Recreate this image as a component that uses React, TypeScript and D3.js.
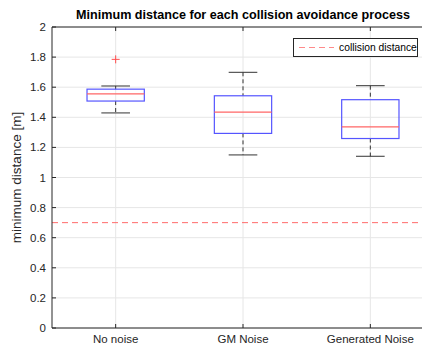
import React from 'react';
import * as d3 from 'd3';

// Box statistics
const categories = ['No noise', 'GM Noise', 'Generated Noise'];
const whiskerLow = [1.429, 1.15, 1.141];
const q1 = [1.508, 1.293, 1.259];
const medians = [1.555, 1.435, 1.336];
const q3 = [1.587, 1.543, 1.517];
const whiskerHigh = [1.608, 1.699, 1.61];
const outliers = [[1.785], [], []];
const collisionDistance = 0.7;
const yTicks = [0, 0.2, 0.4, 0.6, 0.8, 1, 1.2, 1.4, 1.6, 1.8, 2];

const W = 422;
const H = 346;
const margin = { top: 27, right: -12, bottom: 18, left: 52 };
const font = 'Liberation Sans, Arial, sans-serif';
const axisColor = '#262626';

export default function App() {
  const innerW = W - margin.left - margin.right;
  const innerH = H - margin.top - margin.bottom;

  const x = d3.scaleLinear().domain([0.5, 3.5]).range([0, innerW]);
  const y = d3.scaleLinear().domain([0, 2]).range([innerH, 0]);
  const boxHalf = x(1.225) - x(1);
  const capHalf = boxHalf / 2;

  return (
    <svg
      width={W}
      height={H}
      style={{ position: 'absolute', left: 0, top: 0, background: 'white' }}
      fontFamily={font}
    >
      <text
        x={margin.left + innerW / 2}
        y={19}
        textAnchor="middle"
        fontSize={12.6}
        fontWeight="bold"
        fill="#000"
      >
        Minimum distance for each collision avoidance process
      </text>
      <text
        transform={`translate(21,${margin.top + innerH / 2}) rotate(-90)`}
        textAnchor="middle"
        fontSize={13.5}
        fill={axisColor}
      >
        minimum distance [m]
      </text>
      <g transform={`translate(${margin.left},${margin.top})`}>
        {/* grid */}
        {yTicks.map((t) => (
          <line key={'gy' + t} x1={0} x2={innerW} y1={y(t)} y2={y(t)} stroke="#e6e6e6" />
        ))}
        {categories.map((c, i) => (
          <line key={'gx' + c} x1={x(i + 1)} x2={x(i + 1)} y1={0} y2={innerH} stroke="#e6e6e6" />
        ))}

        {/* collision distance */}
        <line
          x1={0}
          x2={innerW}
          y1={y(collisionDistance)}
          y2={y(collisionDistance)}
          stroke="#ff6b6b"
          strokeDasharray="6,4"
        />

        {/* boxes */}
        {categories.map((c, i) => {
          const cx = x(i + 1);
          return (
            <g key={c}>
              <line x1={cx} x2={cx} y1={y(whiskerHigh[i])} y2={y(q3[i])} stroke="#333" strokeDasharray="4,3" />
              <line x1={cx} x2={cx} y1={y(q1[i])} y2={y(whiskerLow[i])} stroke="#333" strokeDasharray="4,3" />
              <line x1={cx - capHalf} x2={cx + capHalf} y1={y(whiskerHigh[i])} y2={y(whiskerHigh[i])} stroke="#333" />
              <line x1={cx - capHalf} x2={cx + capHalf} y1={y(whiskerLow[i])} y2={y(whiskerLow[i])} stroke="#333" />
              <rect
                x={cx - boxHalf}
                y={y(q3[i])}
                width={boxHalf * 2}
                height={y(q1[i]) - y(q3[i])}
                fill="none"
                stroke="#5555ff"
                strokeWidth={1.2}
              />
              <line x1={cx - boxHalf} x2={cx + boxHalf} y1={y(medians[i])} y2={y(medians[i])} stroke="#ff6666" strokeWidth={1.2} />
              {outliers[i].map((o) => (
                <path
                  key={o}
                  d={`M${cx - 4},${y(o)}H${cx + 4}M${cx},${y(o) - 4}V${y(o) + 4}`}
                  stroke="#ff4d4d"
                  strokeWidth={1}
                />
              ))}
            </g>
          );
        })}

        {/* axes frame */}
        <line x1={0} x2={innerW} y1={0} y2={0} stroke={axisColor} />
        <line x1={0} x2={innerW} y1={innerH} y2={innerH} stroke={axisColor} />
        <line x1={0} x2={0} y1={0} y2={innerH} stroke={axisColor} />
        {yTicks.map((t) => (
          <g key={'ty' + t}>
            <line x1={0} x2={4} y1={y(t)} y2={y(t)} stroke={axisColor} />
            <text x={-6} y={y(t)} dy="0.35em" textAnchor="end" fontSize={11.5} fill={axisColor}>
              {d3.format('~g')(t)}
            </text>
          </g>
        ))}
        {categories.map((c, i) => (
          <g key={'tx' + c}>
            <line x1={x(i + 1)} x2={x(i + 1)} y1={innerH} y2={innerH - 4} stroke={axisColor} />
            <line x1={x(i + 1)} x2={x(i + 1)} y1={0} y2={4} stroke={axisColor} />
            <text x={x(i + 1)} y={innerH + 15} textAnchor="middle" fontSize={11.5} fill={axisColor}>
              {c}
            </text>
          </g>
        ))}

        {/* legend */}
        <g transform={`translate(${293 - margin.left},${38 - margin.top})`}>
          <rect x={0.5} y={0.5} width={124} height={18} fill="white" stroke={axisColor} />
          <line x1={6} x2={41} y1={9.5} y2={9.5} stroke="#ff8a8a" strokeDasharray="6,4" />
          <text x={46} y={9.5} dy="0.35em" fontSize={10.3} fill="#000">
            collision distance
          </text>
        </g>
      </g>
    </svg>
  );
}
